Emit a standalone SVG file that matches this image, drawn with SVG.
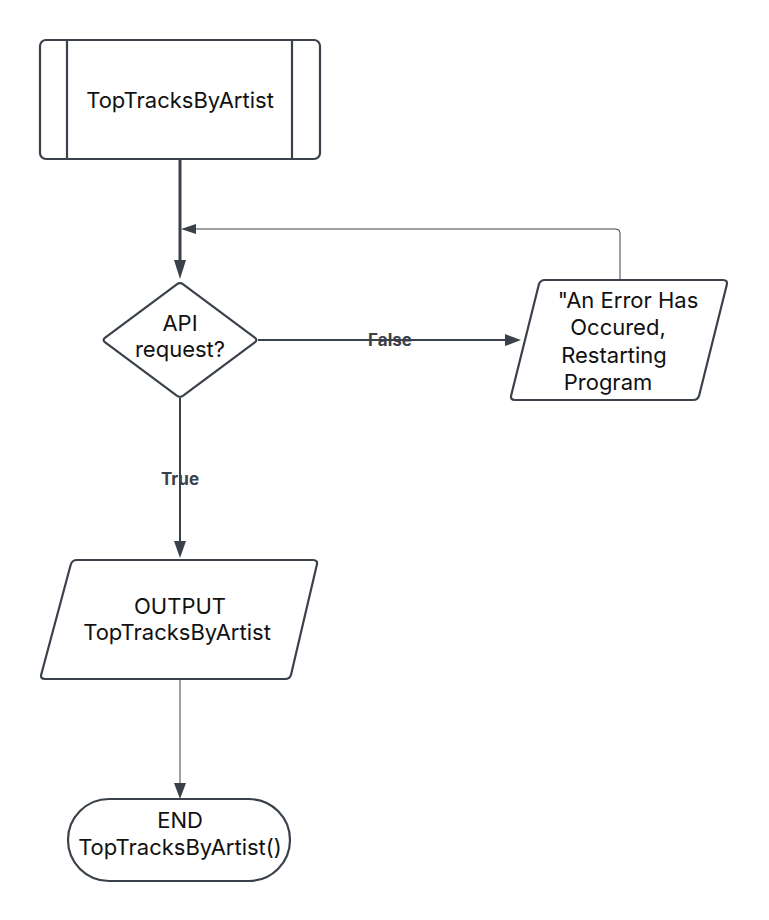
<svg xmlns="http://www.w3.org/2000/svg" width="769" height="920" viewBox="0 0 769 920">
<style>
.shape{fill:#ffffff;stroke:#3a414a;stroke-width:2.2;stroke-linejoin:round}
.t{font-family:Inter,"Liberation Sans",sans-serif;font-size:22px;fill:#111111;text-anchor:middle}
.lbl{font-family:Inter,"Liberation Sans",sans-serif;font-size:17px;font-weight:bold;fill:#3a414a;text-anchor:middle}
.c{fill:none;stroke:#3a414a}
.ah{fill:#3a414a;stroke:none}
</style>
<rect width="769" height="920" fill="#ffffff"/>
<g id="connectors">
<line class="c" x1="180" y1="160" x2="180" y2="262" stroke-width="3"/>
<polygon class="ah" points="174,260 186,260 180,279"/>
<path class="c" d="M620,280 V233 Q620,229 616,229 H196" stroke-width="1"/>
<polygon class="ah" points="196,224 196,234 181,229"/>
<line class="c" x1="258" y1="340" x2="507" y2="340" stroke-width="2"/>
<polygon class="ah" points="505,334 505,346 521,340"/>
<text class="lbl" x="390" y="346">False</text>
<line class="c" x1="180" y1="398" x2="180" y2="543" stroke-width="2"/>
<polygon class="ah" points="174,541 186,541 180,558"/>
<text class="lbl" x="180" y="485">True</text>
<line class="c" x1="180" y1="680" x2="180" y2="785" stroke-width="1"/>
<polygon class="ah" points="174,783 186,783 180,799"/>
</g>
<g id="start">
<rect class="shape" x="40" y="40" width="280" height="119" rx="6"/>
<line class="c" x1="67" y1="40" x2="67" y2="159" stroke-width="2.2"/>
<line class="c" x1="292" y1="40" x2="292" y2="159" stroke-width="2.2"/>
<text class="t" x="180" y="108">TopTracksByArtist</text>
</g>
<g id="decision">
<path class="shape" d="M183.21,284.39 L254.79,337.61 Q258,340 254.79,342.39 L183.21,395.61 Q180,398 176.79,395.61 L105.21,342.39 Q102,340 105.21,337.61 L176.79,284.39 Q180,282 183.21,284.39 Z"/>
<text class="t" x="180" y="331">API</text>
<text class="t" x="180" y="357">request?</text>
</g>
<g id="error">
<path class="shape" d="M545,280 L723,280 Q728,280 726.79,284.85 L699.21,395.15 Q698,400 693,400 L515,400 Q510,400 511.21,395.15 L538.79,284.85 Q540,280 545,280 Z"/>
<text class="t" x="628" y="308">"An Error Has</text>
<text class="t" x="618" y="335">Occured,</text>
<text class="t" x="614" y="363">Restarting</text>
<text class="t" x="608" y="390">Program</text>
</g>
<g id="output">
<path class="shape" d="M77,560 L313,560 Q318,560 316.85,564.87 L291.15,674.13 Q290,679 285,679 L45,679 Q40,679 41.3,674.17 L70.7,564.83 Q72,560 77,560 Z"/>
<text class="t" x="180" y="614">OUTPUT</text>
<text class="t" x="177" y="640">TopTracksByArtist</text>
</g>
<g id="end">
<rect class="shape" x="68" y="799" width="222" height="82" rx="41"/>
<text class="t" x="180" y="828">END</text>
<text class="t" x="180" y="855">TopTracksByArtist()</text>
</g>
</svg>
